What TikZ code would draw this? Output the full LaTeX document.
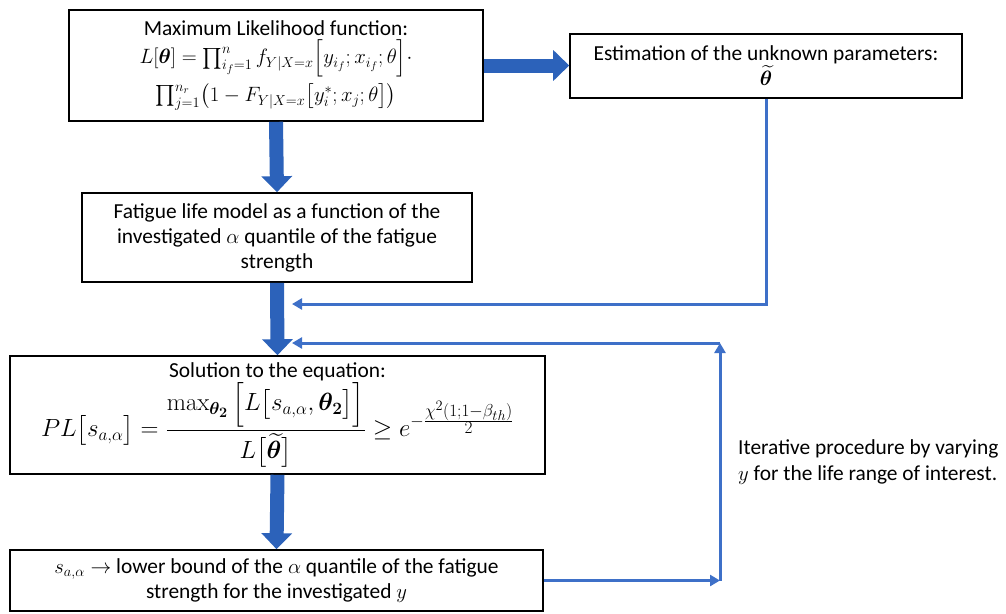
\documentclass[tikz,border=0pt]{standalone}
\usepackage{amsmath,bm}
\usepackage[no-math]{fontspec}
\setmainfont{Carlito}
\usetikzlibrary{arrows.meta}
\definecolor{thickblue}{RGB}{44,98,186}
\definecolor{thinblue}{RGB}{62,112,200}
\begin{document}
\begin{tikzpicture}[x=1pt,y=-1pt,
  box/.style={draw=black, line width=1.6pt, fill=white, align=center, inner sep=2pt, font=\fontsize{21.4}{25}\selectfont},
  bigarrow/.style={thickblue, line width=14pt, -{Triangle[width=30pt,length=16pt]}},
  thinarrow/.style={thinblue, line width=3pt, -{Triangle[width=11pt,length=10pt]}},
  lbl/.style={font=\fontsize{21.4}{26}\selectfont, align=left, inner sep=0pt}]
\useasboundingbox (0,0) rectangle (1006,613);
\node[box, minimum width=414pt, minimum height=111pt] (ml) at (276,65.5)
  {Maximum Likelihood function:\\
   \rule{0pt}{27pt}$L[\boldsymbol{\theta}] = \prod_{i_f=1}^{n} f_{Y|X=x}\Big[y_{i_f}; x_{i_f}; \theta\Big]\cdot$\\
   \rule{0pt}{23pt}$\prod_{j=1}^{n_r}\!\big(1 - F_{Y|X=x}\big[y_i^{*}; x_j; \theta\big]\big)$};
\node[box, minimum width=392pt, minimum height=64pt] (est) at (766,66)
  {Estimation of the unknown parameters:\\ $\widetilde{\boldsymbol{\theta}}$};
\node[box, minimum width=390pt, minimum height=89pt] (fat) at (277,237.5)
  {Fatigue life model as a function of the\\ investigated $\alpha$ quantile of the fatigue\\ strength};
\node[box, minimum width=535pt, minimum height=118pt] (sol) at (277.5,415)
  {Solution to the equation:\\
   \rule{0pt}{44pt}{\fontsize{26.5}{28}\selectfont$\displaystyle PL\big[s_{a,\alpha}\big] = \frac{\max_{\boldsymbol{\theta}_{\mathbf{2}}}\Big[L\big[s_{a,\alpha},\boldsymbol{\theta}_{\mathbf{2}}\big]\Big]}{L\big[\widetilde{\boldsymbol{\theta}}\big]} \geq e^{-\frac{\scriptstyle\chi^2(1;1-\beta_{th})}{\scriptstyle 2}}$}};
\node[box, minimum width=533pt, minimum height=61pt] (low) at (276.5,580.5)
  {$s_{a,\alpha}\rightarrow$ lower bound of the $\alpha$ quantile of the fatigue\\ strength for the investigated $y$};
\node[lbl, anchor=west] (iter) at (738,462)
  {Iterative procedure by varying\\ $y$ for the life range of interest.};
\coordinate (c1) at (292,304);
\coordinate (c2) at (720,580.5);
\coordinate (c3) at (720,343);
\coordinate (c4) at (292,343);
\draw[bigarrow] (ml.east) -- (ml.east -| est.west);
\draw[bigarrow] (ml.south) -- (fat.north);
\draw[bigarrow] (fat.south) -- (sol.north);
\draw[bigarrow] (sol.south) -- (low.north);
\draw[thinarrow] (est.south) |- (c1);
\draw[thinarrow] (low.east) -- (c2);
\draw[thinarrow] (c2) -- (c3);
\draw[thinarrow] (c3) -- (c4);
\end{tikzpicture}
\end{document}
